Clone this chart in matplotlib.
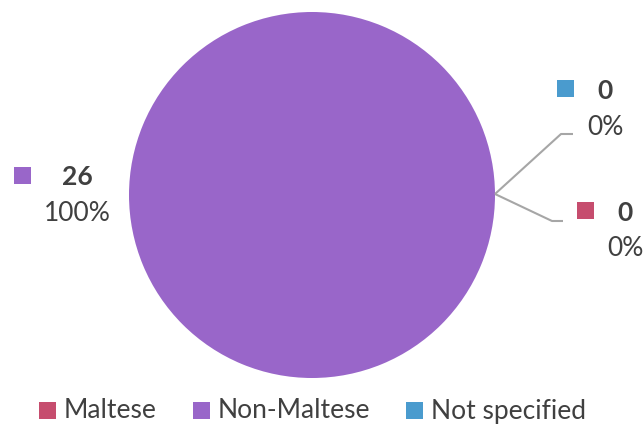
#!/usr/bin/env python
# -*- coding: utf-8 -*-
"""Pie chart of nationality split."""
import matplotlib
matplotlib.use("Agg")
import matplotlib.pyplot as plt
from matplotlib.patches import Rectangle

categories = ["Maltese", "Non-Maltese", "Not specified"]
counts = [0, 26, 0]
colors = ["#C64D6E", "#9966C9", "#4A9BCE"]

W, H = 644, 425
TEXT = "#404040"
FONT = "Lato"

fig = plt.figure(figsize=(W / 100, H / 100), dpi=100)
ax = fig.add_axes([0, 0, 1, 1])
ax.axis("off")


def py(y):
    # pixel row (top-down) to data y (bottom-up)
    return H - y


# pie, starting at 12 o'clock, clockwise like the spreadsheet
ax.pie(counts, colors=colors, startangle=90, counterclock=False,
       center=(312, py(195)), radius=183,
       wedgeprops={"linewidth": 0})
ax.set_xlim(0, W)
ax.set_ylim(0, H)
ax.set_aspect("equal")

total = sum(counts)
# label layout per category: square box, value/percent centre, leader line
layout = {
    "Maltese": {"box": (577, 202), "cx": 625, "vy": 213, "py": 248,
                "line": [(495, 194), (552, 221), (563, 221)]},
    "Non-Maltese": {"box": (14, 167), "cx": 77, "vy": 177, "py": 213,
                    "line": None},
    "Not specified": {"box": (557, 80), "cx": 605, "vy": 91, "py": 127,
                      "line": [(495, 194), (561, 134), (573, 134)]},
}

for cat, val, col in zip(categories, counts, colors):
    lay = layout[cat]
    bx, by = lay["box"]
    ax.add_patch(Rectangle((bx, py(by + 17)), 17, 17, color=col, lw=0))
    ax.text(lay["cx"], py(lay["vy"]), f"{val}", ha="center", va="center",
            fontsize=19, fontweight="bold", color=TEXT, family=FONT)
    pct = 100 * val / total if total else 0
    ax.text(lay["cx"], py(lay["py"]), f"{pct:.0f}%", ha="center",
            va="center", fontsize=19, color=TEXT, family=FONT)
    if lay["line"]:
        xs = [p[0] for p in lay["line"]]
        ys = [py(p[1]) for p in lay["line"]]
        ax.plot(xs, ys, color="#A6A6A6", lw=1.5, solid_capstyle="butt")

# legend along the bottom
legend_x = [39, 193, 406]
for x, cat, col in zip(legend_x, categories, colors):
    ax.add_patch(Rectangle((x, py(419)), 17, 17, color=col, lw=0))
    ax.text(x + 25, py(411), cat, ha="left", va="center", fontsize=19,
            color=TEXT, family=FONT)

fig.savefig("out.png", dpi=100)
